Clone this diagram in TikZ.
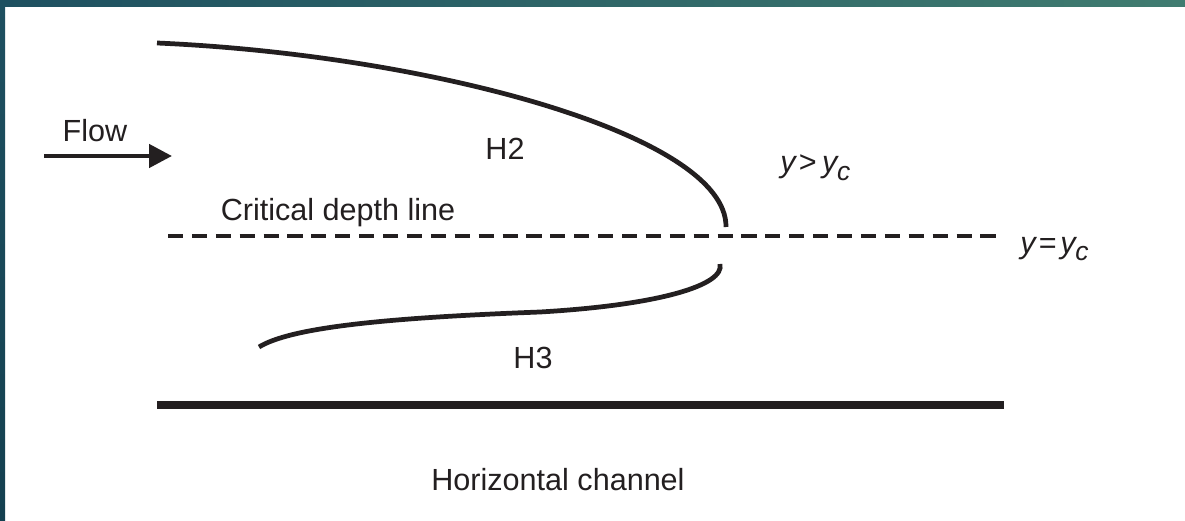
\documentclass[tikz,border=0pt]{standalone}
\usepackage{fontspec}
\setmainfont{Liberation Sans}
\usepackage{tikz}
\usetikzlibrary{arrows.meta, positioning, calc}
\definecolor{Barcolor1}{RGB}{30,80,96}
\definecolor{Barcolor2}{RGB}{64,124,112}
\definecolor{Sidecolor}{RGB}{20,64,80}
\definecolor{Inkcolor}{RGB}{35,31,32}
\newcommand{\subc}{\raisebox{-0.45ex}{\fontsize{15}{15}\selectfont\textit{c}}}

\begin{document}
\begin{tikzpicture}[x=0.02cm, y=-0.02cm,
    lbl/.style={font=\fontsize{17.4}{20}\selectfont, text=Inkcolor,
                inner sep=0pt, anchor=base},
    curve/.style={line width=2.7pt, draw=Inkcolor, line cap=butt},
    crit/.style={line width=2.6pt, draw=Inkcolor, dash pattern=on 8.6pt off 5pt},
    bed/.style={line width=5pt, draw=Inkcolor},
    arr/.style={-{Triangle[length=13pt, width=13pt]}, line width=2.6pt, draw=Inkcolor}]

  %--- Fondo y marco ---
  \useasboundingbox (0,0) rectangle (1185,520);
  \fill[white] (0,0) rectangle (1185,520);
  \shade[left color=Barcolor1, right color=Barcolor2] (0,0) rectangle (1185,7);
  \shade[top color=Barcolor1, bottom color=Sidecolor] (0,0) rectangle (5,520);

  %--- Puntos de referencia ---
  \coordinate (h2a) at (157,43);
  \coordinate (h2b) at (726,227);
  \coordinate (h3a) at (259,347);
  \coordinate (h3m) at (540,312);
  \coordinate (h3b) at (720,264);
  \coordinate (cl)  at (168,236);
  \coordinate (cr)  at (1000,236);
  \coordinate (bl)  at (157,405);
  \coordinate (br)  at (1004,405);
  \coordinate (fa)  at (44,156);
  \coordinate (fb)  at (172,156);

  %--- Curvas H2 y H3 ---
  \draw[curve] (h2a) .. controls (430,55) and (727,135) .. (h2b);
  \draw[curve] (h3a) .. controls (290,328) and (380,318) .. (h3m)
                     .. controls (660,305) and (725,285) .. (h3b);

  %--- Profundidad critica y fondo del canal ---
  \draw[crit] (cl) -- (cr);
  \draw[bed]  (bl) -- (br);

  %--- Flecha de flujo ---
  \draw[arr] (fa) -- (fb);

  %--- Etiquetas ---
  \node[lbl] (flow) at (95,142)  {Flow};
  \node[lbl] (hh2)  at (505,160) {H2};
  \node[lbl] (hh3)  at (533,368) {H3};
  \node[lbl] (cdl)  at (338,220) {Critical depth line};
  \node[lbl] (chan) at (558,490) {Horizontal channel};
  \node[lbl, anchor=base west] (ygt) at (780,173)
    {\textit{y}\kern1pt>\kern3pt\textit{y}\kern-1pt\subc};
  \node[lbl, anchor=base west] (yeq) at (1020,253)
    {\textit{y}\kern1pt=\kern2pt\textit{y}\kern-1pt\subc};
\end{tikzpicture}
\end{document}
